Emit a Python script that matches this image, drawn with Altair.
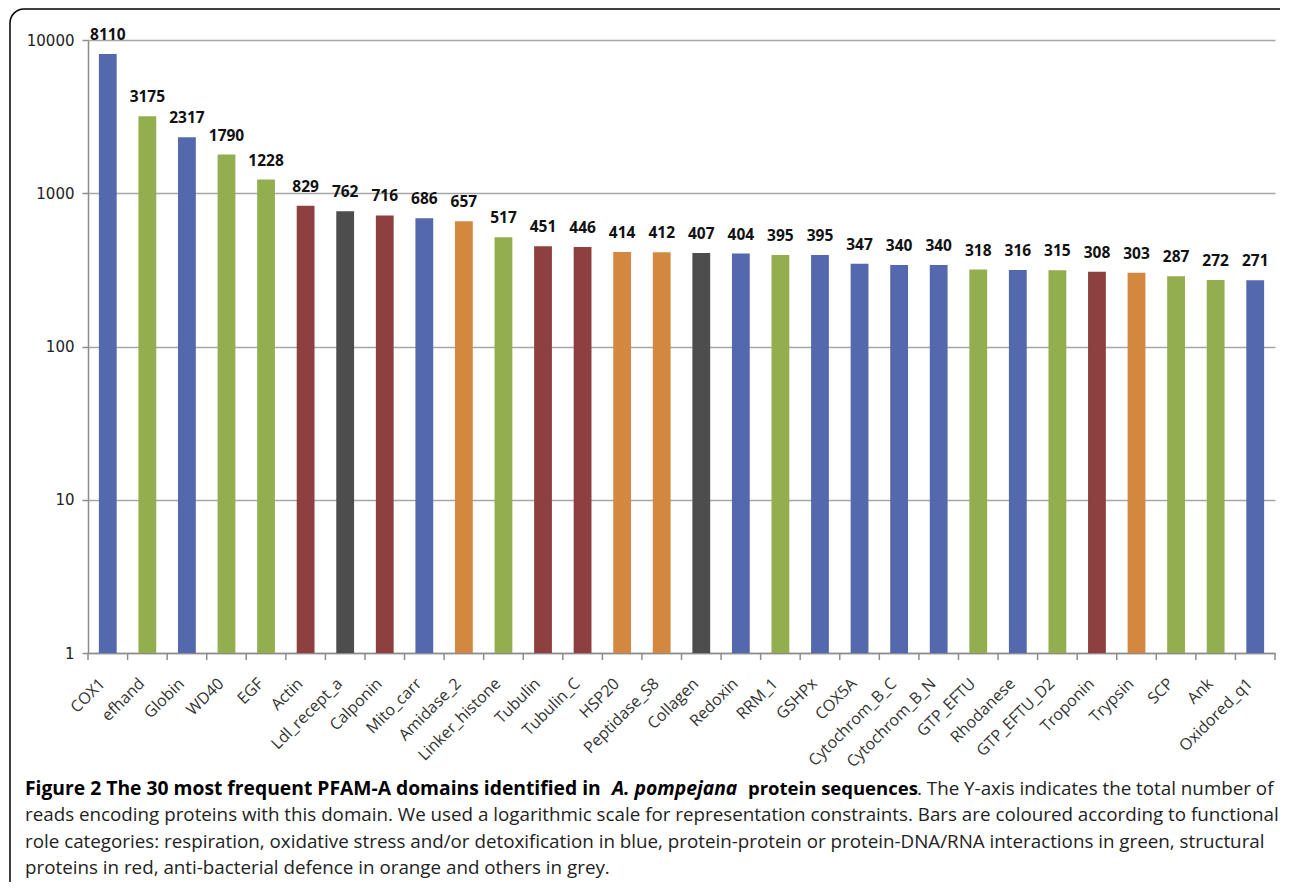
import altair as alt
import pandas as pd

domains = ["COX1", "efhand", "Globin", "WD40", "EGF", "Actin", "Ldl_recept_a", "Calponin",
           "Mito_carr", "Amidase_2", "Linker_histone", "Tubulin", "Tubulin_C", "HSP20",
           "Peptidase_S8", "Collagen", "Redoxin", "RRM_1", "GSHPx", "COX5A", "Cytochrom_B_C",
           "Cytochrom_B_N", "GTP_EFTU", "Rhodanese", "GTP_EFTU_D2", "Troponin", "Trypsin",
           "SCP", "Ank", "Oxidored_q1"]
reads = [8110, 3175, 2317, 1790, 1228, 829, 762, 716, 686, 657, 517, 451, 446, 414, 412,
         407, 404, 395, 395, 347, 340, 340, 318, 316, 315, 308, 303, 287, 272, 271]
roles = ["blue", "green", "blue", "green", "green", "red", "grey", "red", "blue", "orange",
         "green", "red", "red", "orange", "orange", "grey", "blue", "green", "blue", "blue",
         "blue", "blue", "green", "blue", "green", "red", "orange", "green", "green", "blue"]
y_ticks = [1, 10, 100, 1000, 10000]

role_names = ["blue", "green", "red", "orange", "grey"]
role_colors = ["#5468AD", "#93AE4F", "#8E3F3F", "#D4883F", "#4D4D4D"]

df = pd.DataFrame({"domain": domains, "reads": reads, "role": roles})

W, H = 1187, 613
STEP = W / 30.0

xscale = alt.Scale(type="band", paddingInner=0.55, paddingOuter=0.275)
xenc = alt.X("domain:N", sort=domains, scale=xscale,
             axis=alt.Axis(title=None, labelAngle=-45, labelFont="Open Sans",
                           labelFontSize=16, labelColor="#333333", ticks=False,
                           domainColor="#8c8c8c", domainWidth=1.5, labelPadding=22,
                           labelOffset=-11))
yscale = alt.Scale(type="log", domain=[1, 10000], nice=False)
yenc = alt.Y("reads:Q", scale=yscale, stack=None,
             axis=alt.Axis(title=None, values=y_ticks, format="d", labelFont="DejaVu Sans",
                           labelFontSize=15, labelColor="#222222", tickColor="#8c8c8c",
                           tickSize=6, tickWidth=1.5, domainColor="#8c8c8c", domainWidth=1.5,
                           gridColor="#a6a6a6", gridWidth=1.5, labelPadding=8))

base = alt.Chart(df)

bars = base.mark_bar().encode(
    x=xenc,
    y=yenc,
    y2=alt.value(H),
    color=alt.Color("role:N", scale=alt.Scale(domain=role_names, range=role_colors), legend=None),
)

labels = base.mark_text(baseline="bottom", dy=-11, font="Open Sans", fontSize=15.5,
                        fontWeight="bold", color="#111111").encode(
    x=alt.X("domain:N", sort=domains),
    y=alt.Y("reads:Q", stack=None),
    text=alt.Text("reads:Q", format="d"))

ticks = base.mark_rule(color="#8c8c8c", strokeWidth=1.5, xOffset=-0.275 * STEP).encode(
    x=alt.X("domain:N", sort=domains, bandPosition=0), y=alt.value(H), y2=alt.value(H + 7))
end_tick = alt.Chart(pd.DataFrame({"a": [0]})).mark_rule(color="#8c8c8c", strokeWidth=1.5).encode(
    x=alt.value(W), y=alt.value(H), y2=alt.value(H + 7))

# figure frame: top and left edges with a rounded corner
frame_top = alt.Chart(pd.DataFrame({"a": [0]})).mark_rule(color="#000000", strokeWidth=1.5).encode(
    x=alt.value(-64), x2=alt.value(1200), y=alt.value(-31))
frame_left = alt.Chart(pd.DataFrame({"a": [0]})).mark_rule(color="#000000", strokeWidth=1.5).encode(
    x=alt.value(-78), y=alt.value(-17), y2=alt.value(900))
frame_corner = alt.Chart(pd.DataFrame({"a": [0]})).mark_arc(
    radius=14, radius2=14, theta=4.712389, theta2=6.283185, stroke="#000000", strokeWidth=1.5,
    fill=None).encode(x=alt.value(-64), y=alt.value(-17))

cap_font = "Open Sans"


def cap(text, x, y, size, weight="normal", style="normal", color="#222222"):
    return alt.Chart(pd.DataFrame({"t": [text]})).mark_text(
        align="left", baseline="alphabetic", font=cap_font, fontSize=size,
        fontWeight=weight, fontStyle=style, color=color).encode(
        text="t:N", x=alt.value(x), y=alt.value(y))


line1a = cap("Figure 2 The 30 most frequent PFAM-A domains identified in", -63, 755, 19.3, "bold", color="#000000")
line1b = cap("A. pompejana", 524, 755, 19.3, "bold", "italic", color="#000000")
line1c = cap("protein sequences", 660, 755, 18.5, "bold", color="#000000")
line1d = cap(". The Y-axis indicates the total number of", 829, 755, 18.8)
line2 = cap("reads encoding proteins with this domain. We used a logarithmic scale for representation constraints. Bars are coloured according to functional", -63, 781, 18.8)
line3 = cap("role categories: respiration, oxidative stress and/or detoxification in blue, protein-protein or protein-DNA/RNA interactions in green, structural", -63, 808, 18.8)
line4 = cap("proteins in red, anti-bacterial defence in orange and others in grey.", -63, 834, 18.8)

chart = alt.layer(bars, labels, ticks, end_tick, frame_top, frame_left, frame_corner,
                  line1a, line1b, line1c, line1d, line2, line3, line4).properties(
    width=W, height=H,
    autosize=alt.AutoSizeParams(type="none"),
    padding={"left": 80, "top": 32, "right": 5, "bottom": 229},
    background="white",
).configure_view(stroke=None)

chart.save("out.html", embed_options={"renderer": "svg", "actions": False})
